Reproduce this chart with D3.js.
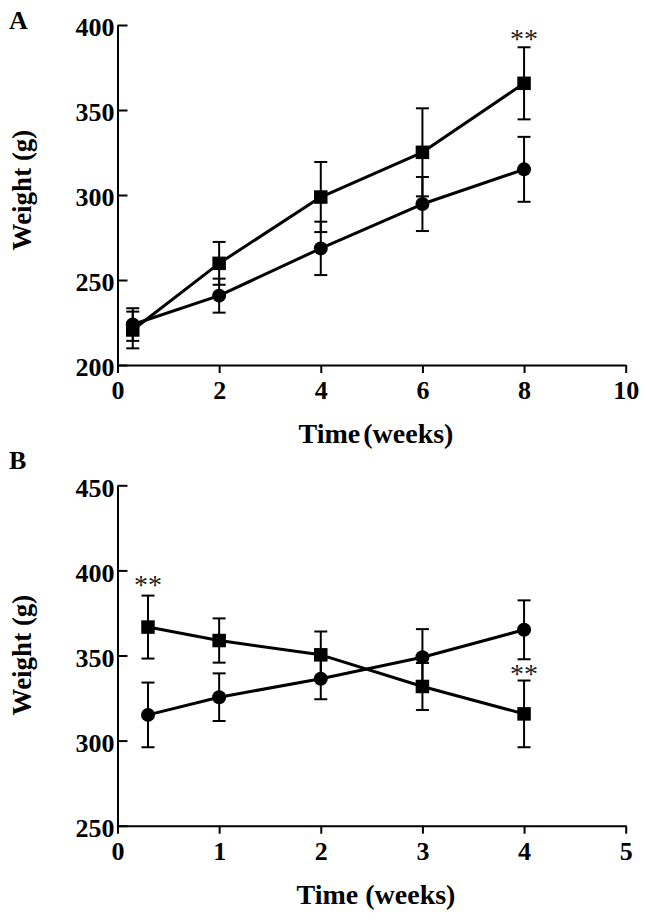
<!DOCTYPE html>
<html>
<head>
<meta charset="utf-8">
<script src="https://cdn.jsdelivr.net/npm/d3@7"></script>
<style>
  html, body { margin: 0; padding: 0; background: #fff; }
  svg { display: block; }
  text { font-family: "Liberation Serif", "Times New Roman", serif; }
</style>
</head>
<body>
<script>
// ---------- data ----------
const panelA_time = [0.3, 2, 4, 6, 8];
const panelA_squareMean = [220.6, 259.8, 298.8, 325.1, 365.7];
const panelA_squareSD   = [10.8, 12.6, 20.6, 25.9, 21.2];
const panelA_circleMean = [223.8, 240.8, 268.6, 294.7, 315.1];
const panelA_circleSD   = [9.6, 10.0, 15.7, 15.9, 19.1];
const panelA_xTicks = [0, 2, 4, 6, 8, 10];
const panelA_yTicks = [200, 250, 300, 350, 400];
const panelA_stars = [{ t: 8, v: 394 }];

const panelB_time = [0.3, 1, 2, 3, 4];
const panelB_squareMean = [366.7, 358.8, 350.4, 331.8, 315.7];
const panelB_squareSD   = [18.5, 13.0, 13.7, 13.8, 19.6];
const panelB_circleMean = [315.1, 325.5, 336.3, 349.0, 365.1];
const panelB_circleSD   = [19.0, 14.0, 12.0, 16.5, 17.3];
const panelB_xTicks = [0, 1, 2, 3, 4, 5];
const panelB_yTicks = [250, 300, 350, 400, 450];
const panelB_stars = [{ t: 0.3, v: 393.5 }, { t: 4, v: 341.5 }];

const xLabel = "Time (weeks)";
const yLabel = "Weight (g)";

// ---------- drawing ----------
const W = 646, H = 920;
const svg = d3.select("body").append("svg").attr("width", W).attr("height", H);

function drawPanel(cfg) {
  const x = d3.scaleLinear().domain(cfg.xDomain).range([117.5, 625.7]);
  const y = d3.scaleLinear().domain(cfg.yDomain).range([cfg.bottom, cfg.top]);
  const g = svg.append("g");

  // panel letter
  g.append("text").attr("x", 9).attr("y", cfg.letterY)
    .attr("font-size", 26).attr("font-weight", "bold").text(cfg.letter);

  // y axis (ticks inward)
  const ya = g.append("g").attr("transform", `translate(${x(cfg.xDomain[0])},0)`)
    .call(d3.axisLeft(y).tickValues(cfg.yTicks).tickFormat(d3.format("d"))
      .tickSizeInner(-10).tickSizeOuter(0).tickPadding(3));
  // x axis (ticks outward)
  const xa = g.append("g").attr("transform", `translate(0,${y(cfg.yDomain[0])})`)
    .call(d3.axisBottom(x).tickValues(cfg.xTicks).tickFormat(d3.format("d"))
      .tickSize(8).tickSizeOuter(0));

  [ya, xa].forEach(a => {
    a.select(".domain").attr("stroke", "#000").attr("stroke-width", 2);
    a.selectAll(".tick line").attr("stroke", "#000").attr("stroke-width", 2);
    a.selectAll(".tick text").attr("fill", "#000").attr("font-size", 26)
      .attr("font-weight", "bold").attr("font-family", '"Liberation Serif", "Times New Roman", serif');
  });
  ya.selectAll(".tick text").attr("dy", "0.42em");
  xa.selectAll(".tick text").attr("y", 34).attr("dy", 0);

  // axis titles
  g.append("text").attr("x", 376).attr("y", y(cfg.yDomain[0]) + 78)
    .attr("text-anchor", "middle").attr("font-size", 28).attr("font-weight", "bold")
    .attr("word-spacing", cfg.wordSpacing).text(xLabel);
  g.append("text").attr("transform", `translate(31,${cfg.yLabelY}) rotate(-90)`)
    .attr("text-anchor", "middle").attr("font-size", 27).attr("font-weight", "bold").text(yLabel);

  const series = [
    { mean: cfg.squareMean, sd: cfg.squareSD, shape: "square" },
    { mean: cfg.circleMean, sd: cfg.circleSD, shape: "circle" }
  ];
  const cap = 6.5;

  // error bars
  series.forEach(s => {
    const d = cfg.time.map((t, i) => ({ t, m: s.mean[i], e: s.sd[i] }));
    const eb = g.append("g").attr("stroke", "#000").attr("stroke-width", 2).attr("fill", "none");
    eb.selectAll("line.v").data(d).join("line").attr("class", "v")
      .attr("x1", p => x(p.t)).attr("x2", p => x(p.t))
      .attr("y1", p => y(p.m - p.e)).attr("y2", p => y(p.m + p.e));
    eb.selectAll("line.t").data(d).join("line").attr("class", "t")
      .attr("x1", p => x(p.t) - cap).attr("x2", p => x(p.t) + cap)
      .attr("y1", p => y(p.m + p.e)).attr("y2", p => y(p.m + p.e));
    eb.selectAll("line.b").data(d).join("line").attr("class", "b")
      .attr("x1", p => x(p.t) - cap).attr("x2", p => x(p.t) + cap)
      .attr("y1", p => y(p.m - p.e)).attr("y2", p => y(p.m - p.e));
  });

  // lines
  series.forEach(s => {
    const line = d3.line().x((t) => x(t)).y((t, i) => y(s.mean[i]));
    g.append("path").attr("d", line(cfg.time)).attr("fill", "none")
      .attr("stroke", "#000").attr("stroke-width", 3).attr("stroke-linejoin", "round");
  });

  // markers
  series.forEach(s => {
    const d = cfg.time.map((t, i) => ({ t, m: s.mean[i] }));
    if (s.shape === "square") {
      const side = 13.5;
      g.selectAll(null).data(d).join("rect")
        .attr("x", p => x(p.t) - side / 2).attr("y", p => y(p.m) - side / 2)
        .attr("width", side).attr("height", side).attr("fill", "#000");
    } else {
      g.selectAll(null).data(d).join("circle")
        .attr("cx", p => x(p.t)).attr("cy", p => y(p.m)).attr("r", 7).attr("fill", "#000");
    }
  });

  // significance stars
  g.selectAll(null).data(cfg.stars).join("text")
    .attr("x", p => x(p.t)).attr("y", p => y(p.v) + 13)
    .attr("text-anchor", "middle").attr("font-size", 28).attr("fill", "#222")
    .text("**");
}

drawPanel({
  letter: "A", letterY: 29,
  xDomain: [0, 10], yDomain: [200, 400], top: 25, bottom: 365,
  xTicks: panelA_xTicks, yTicks: panelA_yTicks,
  time: panelA_time,
  squareMean: panelA_squareMean, squareSD: panelA_squareSD,
  circleMean: panelA_circleMean, circleSD: panelA_circleSD,
  stars: panelA_stars, yLabelY: 190, wordSpacing: -4
});

drawPanel({
  letter: "B", letterY: 469,
  xDomain: [0, 5], yDomain: [250, 450], top: 485.3, bottom: 825.7,
  xTicks: panelB_xTicks, yTicks: panelB_yTicks,
  time: panelB_time,
  squareMean: panelB_squareMean, squareSD: panelB_squareSD,
  circleMean: panelB_circleMean, circleSD: panelB_circleSD,
  stars: panelB_stars, yLabelY: 655, wordSpacing: 0
});
</script>
</body>
</html>
